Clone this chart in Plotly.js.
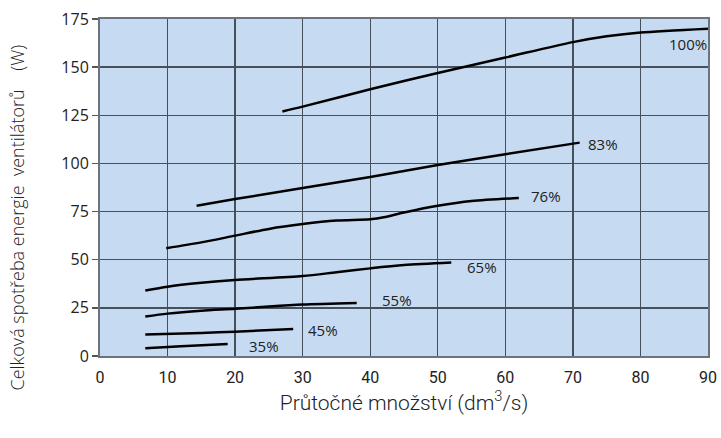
<!DOCTYPE html>
<html>
<head>
<meta charset="utf-8">
<script src="https://cdn.plot.ly/plotly-3.0.1.min.js"></script>
<style>html,body{margin:0;padding:0;background:#fff;}#chart{width:721px;height:438px;}</style>
</head>
<body>
<div id="chart"></div>
<script>
// Curve data
const seriesNames = ["100%", "83%", "76%", "65%", "55%", "45%", "35%"];
const x100 = [27, 30, 40, 50, 60, 70, 75, 80, 90];
const y100 = [127, 129.5, 138.5, 147, 155, 163, 166, 168, 170];
const x83 = [14.3, 20, 30, 40, 50, 60, 71];
const y83 = [78, 81.5, 87.2, 93, 99.2, 104.8, 110.8];
const x76 = [9.8, 15, 20, 25, 30, 35, 40, 42, 45, 50, 55, 62];
const y76 = [56, 59, 62.5, 66, 68.5, 70.3, 71, 72, 74.5, 78, 80.5, 82];
const x65 = [6.7, 10, 15, 20, 30, 35, 40, 45, 52];
const y65 = [34, 36, 38, 39.5, 41.5, 43.5, 45.5, 47.2, 48.5];
const x55 = [6.7, 10, 15, 20, 25, 30, 38];
const y55 = [20.5, 22, 23.5, 24.5, 25.7, 26.7, 27.5];
const x45 = [6.7, 15, 20, 28.6];
const y45 = [11.2, 12, 12.6, 14];
const x35 = [6.7, 12, 18.9];
const y35 = [4, 5, 6.2];
// curve label anchors
const labelX = [87, 74.5, 66, 56.6, 43.9, 33, 24.3];
const labelY = [162, 110, 83, 46, 29, 13.5, 5];
const xTicks = [0, 10, 20, 30, 40, 50, 60, 70, 80, 90];
const yTicks = [0, 25, 50, 75, 100, 125, 150, 175];
const yTitle = 'Celková spotřeba energie&nbsp;&nbsp;ventilátorů&nbsp;&nbsp;&nbsp;&nbsp;(W)';
const xTitle = 'Průtočné množství (dm<sup>3</sup>/s)';

const xs = [x100, x83, x76, x65, x55, x45, x35];
const ys = [y100, y83, y76, y65, y55, y45, y35];

const traces = xs.map((x, i) => ({
  x: x, y: ys[i], type: 'scatter', mode: 'lines', name: seriesNames[i],
  line: {color: '#000', width: 2.5, shape: 'spline', smoothing: 0.8},
  hoverinfo: 'skip'
}));

const annotations = seriesNames.map((n, i) => ({
  x: labelX[i], y: labelY[i], xref: 'x', yref: 'y', text: n, showarrow: false,
  font: {family: 'Open Sans, sans-serif', size: 15, color: '#222'}
}));
annotations.push({
  x: -0.137, y: 0.41, xref: 'paper', yref: 'paper', text: yTitle, showarrow: false,
  textangle: -90, xanchor: 'center', yanchor: 'middle',
  font: {family: 'Open Sans, sans-serif', size: 18, weight: 300, color: '#222'}
});

const gridColor = '#46505a';
const layout = {
  width: 721, height: 438,
  margin: {l: 100, r: 13, t: 19, b: 82},
  paper_bgcolor: '#ffffff',
  plot_bgcolor: '#c6dbf2',
  showlegend: false,
  xaxis: {
    range: [0, 90], tickvals: xTicks, ticktext: xTicks.map(String),
    showgrid: true, gridcolor: gridColor, gridwidth: 1.3,
    zeroline: false, showline: true, linecolor: '#6b747c', linewidth: 2, mirror: true,
    ticks: '', ticklabelstandoff: 6,
    tickfont: {family: 'Roboto, sans-serif', size: 16, color: '#222'},
    title: {text: xTitle, standoff: 7,
      font: {family: 'Roboto, sans-serif', size: 21, weight: 300, color: '#222'}}
  },
  yaxis: {
    range: [0, 175], tickvals: yTicks, ticktext: yTicks.map(String),
    showgrid: true, gridcolor: gridColor, gridwidth: 1.3,
    zeroline: false, showline: true, linecolor: '#6b747c', linewidth: 2, mirror: true,
    ticks: 'outside', ticklen: 6, tickcolor: '#555', tickwidth: 1.3,
    tickfont: {family: 'Open Sans, sans-serif', size: 16, color: '#222'}
  },
  annotations: annotations
};

Plotly.newPlot('chart', traces, layout, {staticPlot: true, displayModeBar: false});
</script>
</body>
</html>
